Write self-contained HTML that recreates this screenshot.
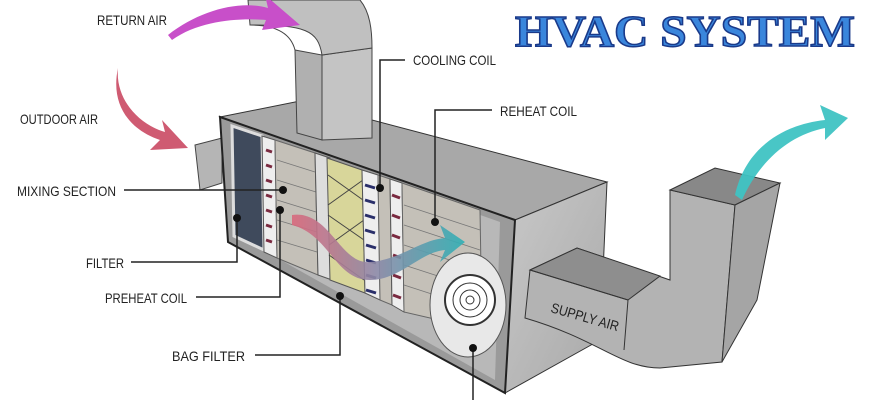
<!DOCTYPE html>
<html><head><meta charset="utf-8"><style>
html,body{margin:0;padding:0;background:#fff;}
svg{display:block}
.t{font-family:"Liberation Sans Narrow","Liberation Sans",sans-serif;font-size:14px;fill:#222;}
</style></head><body>
<svg width="870" height="400" viewBox="0 0 870 400" xmlns="http://www.w3.org/2000/svg">
<defs>
<linearGradient id="g1" x1="0" y1="0" x2="1" y2="1"><stop offset="0" stop-color="#c8c8c8"/><stop offset="1" stop-color="#a9a9a9"/></linearGradient>
<linearGradient id="fl" x1="0" y1="0" x2="1" y2="0"><stop offset="0" stop-color="#d9697c"/><stop offset="0.5" stop-color="#8a8aa8"/><stop offset="1" stop-color="#2fb0b5"/></linearGradient>
</defs>
<!-- outdoor air stub -->
<path d="M195 145 L222 138 L222 183 L200 190 Z" fill="#b5b5b5" stroke="#444"/>
<!-- box top -->
<path d="M220 117 L300 101 L607 182 L515 220 Z" fill="#a8a8a8" stroke="#333"/>
<!-- return duct -->
<path d="M295 50 L322 55 L322 140 L297 133Z" fill="#b0b0b0" stroke="#444"/>
<path d="M322 55 L372 48 L372 138 L322 140 Z" fill="#c4c4c4" stroke="#444"/>
<path d="M248 0 L360 0 C370 12 372 30 372 48 L322 55 C318 30 305 25 250 25 Z" fill="#c0c0c0" stroke="#444"/>
<path d="M295 50 C290 30 270 25 250 25" fill="none" stroke="#444"/>
<!-- right face -->
<path d="M515 220 L607 182 L600 340 L505 393 Z" fill="url(#g1)" stroke="#333"/>
<!-- interior -->
<path d="M220 117 L515 220 L505 393 L228 242 Z" fill="#9a9a9a" stroke="#222" stroke-width="2"/>
<path d="M240 130 L500 222 L495 380 L245 240 Z" fill="#b8b8b8"/>
<!-- filter -->
<path d="M232 126 L262 136 L264 250 L234 236Z" fill="#3f4a5c" stroke="#ddd" stroke-width="3"/>
<!-- preheat coil -->
<path d="M262 136 L275 140 L277 258 L264 252Z" fill="#eee" stroke="#555"/>
<g stroke="#7a2a40" stroke-width="3">
<line x1="266" y1="150" x2="272" y2="152"/><line x1="266" y1="165" x2="272" y2="167"/><line x1="266" y1="180" x2="272" y2="182"/><line x1="266" y1="195" x2="272" y2="197"/><line x1="266" y1="210" x2="272" y2="212"/><line x1="266" y1="225" x2="272" y2="227"/><line x1="266" y1="240" x2="272" y2="242"/></g>
<path d="M275 140 L315 153 L318 275 L277 258Z" fill="#c4c0b8" stroke="#666"/>
<g stroke="#777" stroke-width="0.8"><line x1="277" y1="160" x2="315" y2="172"/><line x1="277" y1="180" x2="316" y2="192"/><line x1="277" y1="200" x2="316" y2="212"/><line x1="277" y1="220" x2="317" y2="232"/><line x1="277" y1="240" x2="317" y2="252"/></g>
<!-- bag filter -->
<path d="M315 153 L330 158 L332 280 L318 275Z" fill="#ddd" stroke="#555"/>
<path d="M327 158 L362 170 L365 293 L330 280Z" fill="#d8d69a" stroke="#555"/>
<g stroke="#444" stroke-width="1"><line x1="328" y1="175" x2="363" y2="200"/><line x1="363" y1="180" x2="328" y2="205"/><line x1="328" y1="215" x2="364" y2="240"/><line x1="364" y1="220" x2="329" y2="245"/><line x1="329" y1="255" x2="364" y2="280"/></g>
<!-- cooling coil -->
<path d="M362 170 L378 175 L380 300 L365 293Z" fill="#eee" stroke="#555"/>
<g stroke="#2a2f6a" stroke-width="3"><line x1="365" y1="185" x2="375" y2="188"/><line x1="365" y1="200" x2="375" y2="203"/><line x1="365" y1="215" x2="375" y2="218"/><line x1="365" y1="230" x2="375" y2="233"/><line x1="366" y1="245" x2="376" y2="248"/><line x1="366" y1="260" x2="376" y2="263"/><line x1="366" y1="275" x2="376" y2="278"/><line x1="366" y1="290" x2="376" y2="293"/></g>
<path d="M378 175 L390 179 L392 305 L380 300Z" fill="#c4c0b8" stroke="#666"/>
<path d="M390 179 L402 183 L404 312 L392 305Z" fill="#eee" stroke="#555"/>
<g stroke="#7a2a40" stroke-width="3"><line x1="392" y1="195" x2="400" y2="198"/><line x1="392" y1="215" x2="400" y2="218"/><line x1="392" y1="235" x2="400" y2="238"/><line x1="393" y1="255" x2="401" y2="258"/><line x1="393" y1="275" x2="401" y2="278"/><line x1="393" y1="295" x2="401" y2="298"/></g>
<path d="M402 183 L480 210 L482 330 L404 312Z" fill="#c4c0b8" stroke="#666"/>
<g stroke="#777" stroke-width="0.8"><line x1="404" y1="205" x2="480" y2="230"/><line x1="404" y1="225" x2="480" y2="250"/><line x1="404" y1="245" x2="480" y2="270"/><line x1="404" y1="265" x2="481" y2="290"/><line x1="404" y1="285" x2="481" y2="310"/></g>
<!-- fan -->
<ellipse cx="468" cy="305" rx="38" ry="52" fill="#e8e8e8" stroke="#555"/>
<circle cx="470" cy="300" r="25" fill="#fff" stroke="#333" stroke-width="2"/>
<circle cx="470" cy="300" r="17" fill="none" stroke="#333"/>
<circle cx="470" cy="300" r="10" fill="none" stroke="#333"/>
<circle cx="470" cy="300" r="4" fill="none" stroke="#333"/>
<!-- flow arrow -->
<path d="M292 215 C330 210 340 265 370 262 C400 260 420 240 445 238 L440 225 L465 242 L440 262 L445 250 C420 252 400 280 370 280 C335 280 330 235 292 225Z" fill="url(#fl)" opacity="0.9"/>
<!-- supply duct -->
<path d="M530 270 L577 248 L670 280 L670 190 L735 205 L722 362 L660 368 C620 368 600 340 525 318 Z" fill="#b3b3b3" stroke="#333"/>
<path d="M530 270 L577 248 L660 276 L628 300Z" fill="#8e8e8e" stroke="#333"/>
<path d="M670 190 L715 168 L780 183 L735 205Z" fill="#888" stroke="#333"/>
<path d="M735 205 L780 183 L757 300 L722 362Z" fill="#a5a5a5" stroke="#333"/>
<path d="M530 270 L628 300 L624 350" fill="none" stroke="#333"/>
<text class="t" transform="translate(550,312) rotate(16)" textLength="70" lengthAdjust="spacingAndGlyphs">SUPPLY AIR</text>
<!-- arrows -->
<path d="M735 195 C745 150 780 125 825 120 L820 105 L848 118 L825 140 L825 128 C790 135 760 160 742 200Z" fill="#3fc3c3" opacity="0.95"/>
<path d="M168 35 C200 10 240 0 268 8 L265 -5 L300 25 L262 30 L266 20 C240 18 200 20 172 40Z" fill="#c84fc9"/>
<path d="M118 68 C115 100 140 125 165 132 L162 120 L188 148 L150 150 L160 140 C130 130 110 105 118 68Z" fill="#cf5b72"/>
<!-- title -->
<text x="515" y="46" textLength="340" lengthAdjust="spacingAndGlyphs" font-family="Liberation Serif,serif" font-weight="bold" font-size="44" fill="#3a86dc" stroke="#1a3a8a" stroke-width="1.5">HVAC SYSTEM</text>
<!-- labels -->
<g class="t">
<text class="t" x="97" y="25" textLength="70" lengthAdjust="spacingAndGlyphs">RETURN AIR</text>
<text class="t" x="20" y="124" textLength="78" lengthAdjust="spacingAndGlyphs">OUTDOOR AIR</text>
<text class="t" x="17" y="196" textLength="99" lengthAdjust="spacingAndGlyphs">MIXING SECTION</text>
<text class="t" x="86" y="268" textLength="38" lengthAdjust="spacingAndGlyphs">FILTER</text>
<text class="t" x="105" y="303" textLength="82" lengthAdjust="spacingAndGlyphs">PREHEAT COIL</text>
<text class="t" x="172" y="361" textLength="73" lengthAdjust="spacingAndGlyphs">BAG FILTER</text>
<text class="t" x="413" y="65" textLength="83" lengthAdjust="spacingAndGlyphs">COOLING COIL</text>
<text class="t" x="500" y="116" textLength="77" lengthAdjust="spacingAndGlyphs">REHEAT COIL</text>
</g>
<g stroke="#222" stroke-width="1.5" fill="none">
<polyline points="124,190 283,190"/>
<polyline points="131,262 237,262 237,218"/>
<polyline points="196,297 280,297 280,210"/>
<polyline points="255,355 340,355 340,296"/>
<polyline points="405,60 380,60 380,188"/>
<polyline points="492,110 435,110 435,222"/>
<polyline points="473,348 473,400"/>
</g>
<g fill="#111"><circle cx="283" cy="190" r="4"/><circle cx="237" cy="218" r="4"/><circle cx="280" cy="210" r="4"/><circle cx="340" cy="296" r="4"/><circle cx="380" cy="188" r="4"/><circle cx="435" cy="222" r="4"/><circle cx="473" cy="348" r="4"/></g>
</svg>
</body></html>
